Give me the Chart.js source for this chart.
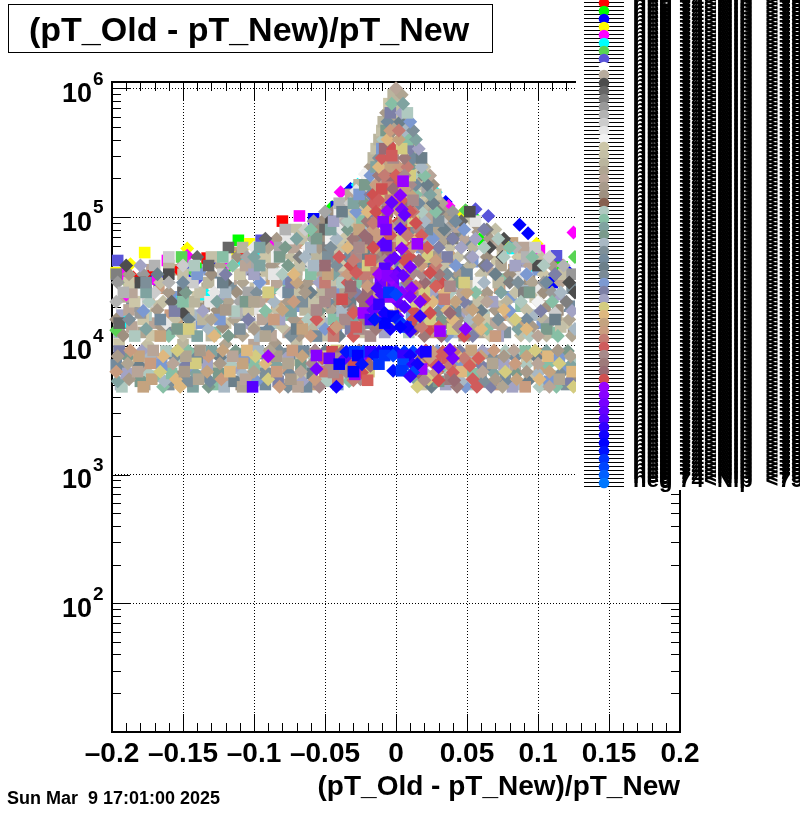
<!DOCTYPE html>
<html>
<head>
<meta charset="utf-8">
<title>(pT_Old - pT_New)/pT_New</title>
<script src="https://cdn.jsdelivr.net/npm/chart.js@4"></script>
<style>
  html, body { margin: 0; padding: 0; background: #ffffff; }
  canvas { display: block; }
</style>
</head>
<body>
<canvas id="chart" width="800" height="814"></canvas>
<script>
// points are [x in 1e-3, count in thousands]
const redPts = [[-80,93],[-185,34],[-171,35],[-153,39],[-133,48],[-110,51],[115,44]];
const limePts = [[-111,66],[-45,120],[-141,40],[59,67],[55,100],[117,41],[-120,42]];
const bluePts = [[-58,97],[-32,165],[-42,120],[-146,37],[-127,46],[-170,33],[87,87],[93,75],[35,131],[122,37],[110,31],[79,60]];
const yellowPts = [[-103,62],[-73,76],[-177,53],[-147,57],[-115,49],[-187,43],[-197,37],[77,62],[99,62],[47,108]];
const magentaPts = [[-68,102],[-39,156],[-87,63],[-147,50],[-161,46],[-193,36],[-168,33],[-118,44],[125,76],[37,122],[101,55],[-190,25]];
const cyanPts = [[-45,105],[-27,178],[-108,46],[-97,57],[28,156],[82,57],[95,42],[-150,24],[-135,25],[-190,15.5]];
const greenPts = [[-151,49],[-189,31],[49,113],[26,151],[126,49],[-143,38],[-62,68],[-197,13.2]];
const purplePts = [[-95,66],[-69,72],[-196,46],[65,102],[56,115],[113,50],[-165,33],[-140,33]];

const greyPts = [
[-197,36],[-178,36],[-160,36],[-140,36],[-122,36],[-100,36],[-86,36],[70,36],[92,36],[112,36],[124,36],
[-190,42],[-170,42],[-150,42],[-132,42],[-115,42],[-98,42],[-78,42],[62,42],[84,42],[100,42],[118,42],
[-160,49],[-140,49],[-120,49],[-105,49],[-84,49],[-68,49],[52,49],[75,49],[92,49],[108,49],
[-118,58],[-100,58],[-82,58],[-62,58],[-48,58],[46,58],[66,58],[84,58],[98,58],
[-92,68],[-76,68],[-58,68],[-46,68],[40,68],[56,68],[76,68],
[-78,80],[-64,80],[-50,80],[-40,80],[36,80],[50,80],[64,80],
[-58,93],[-46,93],[-36,93],[32,93],[46,93],[56,93],
[-50,110],[-40,110],[30,110],[40,110],[52,110],
[-40,128],[-32,128],[26,128],[-28,160],[22,160],[-22,215],[18,215],
[-196,31],[-180,31],[-160,31],[-143,31],[-120,31],[-96,31],[-70,31],[58,31],[80,31],[104,31],[122,31],
[-192,26],[-170,26],[-150,26],[-128,26],[-104,26],[-80,26],[90,26],[110,26],[126,26],
[-197,22],[-175,22],[-158,22],[-131,22],[-110,22],[100,22],[120,22],
[-180,18],[-150,18],[-112,18],[112,18],[-195,15],[-162,15],[108,15]
];

const fillUpPts = [
[-195,12.7],[-178,12.7],[-161,12.7],[-144,12.7],[-127,12.7],[-110,12.7],[-93,12.7],[-76,12.7],[-59,12.7],[-42,12.7],[-25,12.7],[-8,12.7],[9,12.7],[26,12.7],[43,12.7],[60,12.7],[77,12.7],[94,12.7],[111,12.7],[125,12.7],
[-188,15],[-171,15],[-154,15],[-137,15],[-120,15],[-103,15],[-86,15],[-69,15],[-52,15],[-35,15],[-18,15],[1,15],[18,15],[35,15],[52,15],[69,15],[86,15],[103,15],[120,15],
[-193,17.3],[-176,17.3],[-159,17.3],[-142,17.3],[-125,17.3],[-108,17.3],[-91,17.3],[-74,17.3],[-57,17.3],[-40,17.3],[-23,17.3],[-6,17.3],[11,17.3],[28,17.3],[45,17.3],[62,17.3],[79,17.3],[96,17.3],[113,17.3],
[-186,20.3],[-169,20.3],[-152,20.3],[-135,20.3],[-118,20.3],[-101,20.3],[-84,20.3],[-67,20.3],[-50,20.3],[-33,20.3],[-16,20.3],[3,20.3],[20,20.3],[37,20.3],[54,20.3],[71,20.3],[88,20.3],[105,20.3],[122,20.3],
[-191,24],[-174,24],[-157,24],[-140,24],[-123,24],[-106,24],[-89,24],[-72,24],[-55,24],[-38,24],[-21,24],[-4,24],[13,24],[30,24],[47,24],[64,24],[81,24],[98,24],[115,24],
[-184,28],[-167,28],[-150,28],[-133,28],[-116,28],[-99,28],[-82,28],[-65,28],[-48,28],[-31,28],[-14,28],[5,28],[22,28],[39,28],[56,28],[73,28],[90,28],[107,28],[124,28],
[-178,33],[-161,33],[-144,33],[-127,33],[-110,33],[-93,33],[-76,33],[-59,33],[-42,33],[-25,33],[-8,33],[9,33],[26,33],[43,33],[60,33],[77,33],[94,33],[111,33],
[-172,39],[-155,39],[-138,39],[-121,39],[-104,39],[-87,39],[-70,39],[-53,39],[-36,39],[-19,39],[-2,39],[15,39],[32,39],[49,39],[66,39],[83,39],[100,39],[116,39],
[-150,45],[-133,45],[-116,45],[-99,45],[-82,45],[-65,45],[-48,45],[-31,45],[-14,45],[3,45],[20,45],[37,45],[54,45],[71,45],[88,45],[105,45],
[-112,53],[-95,53],[-78,53],[-61,53],[-44,53],[-27,53],[-10,53],[7,53],[24,53],[41,53],[58,53],[75,53],[92,53],
[-85,63],[-68,63],[-51,63],[-34,63],[-17,63],[0,63],[17,63],[34,63],[51,63],[68,63],[82,63],
[-72,73],[-55,73],[-38,73],[-21,73],[-4,73],[13,73],[30,73],[47,73],[64,73],
[-50,86],[-33,86],[-16,86],[1,86],[18,86],[35,86],[48,86],
[-42,100],[-25,100],[-8,100],[9,100],[26,100],[40,100],
[-32,120],[-15,120],[2,120],[19,120],[30,120],
[-26,140],[-9,140],[8,140],[22,140],[-20,190],[-3,190],[14,190]
];

const palePts = [
[-112,22.6],[-108,20],[-80,57],[-56,66],[-34,90],[-85,35],[-108,30],[-147,23],[-180,25],[-100,19],
[-76,70],[-62,46],[43,58],[73,41],[115,20],[85,34],[60,52],[100,28],[-128,30],[-42,76]
];

const beigePts = [
[-195,10.3],[-175,10.3],[-150,10.2],[-120,10.3],[-100,10.2],[-85,10.4],[-70,10.2],
[-192,12],[-172,12],[-150,12],[-130,12],[-108,12],[-88,12],[-68,12],[-52,12],[48,12],[66,12],[88,12],[106,12],[124,12],
[-186,14],[-165,14],[-145,14],[-122,14],[-100,14],[-80,14],[-60,14],[56,14],[74,14],[96,14],[116,14],
[-197,16],[-178,16],[-156,16],[-136,16],[-114,16],[-94,16],[-72,16],[-54,16],[44,16],[62,16],[82,16],[104,16],[122,16],
[-188,19],[-168,19],[-146,19],[-126,19],[-104,19],[-84,19],[-64,19],[-46,19],[50,19],[70,19],[92,19],[114,19],
[-184,22],[-164,22],[-142,22],[-118,22],[-96,22],[-76,22],[-58,22],[-42,22],[40,22],[58,22],[78,22],[100,22],
[-186,26],[-160,26],[-138,26],[-112,26],[-90,26],[-70,26],[-52,26],[-38,26],[46,26],[64,26],[84,26],[104,26],
[-188,31],[-166,31],[-132,31],[-108,31],[-84,31],[-62,31],[-46,31],[-34,31],[38,31],[52,31],[72,31],[96,31],[116,31],
[-188,36],[-150,36],[-130,36],[-110,36],[-92,36],[-70,36],[-52,36],[-38,36],[44,36],[60,36],[80,36],[104,36],[118,36],
[-160,42],[-124,42],[-106,42],[-88,42],[-68,42],[-50,42],[-36,42],[34,42],[52,42],[74,42],[94,42],[110,42],
[-130,49],[-112,49],[-92,49],[-74,49],[-56,49],[-42,49],[-28,49],[28,49],[44,49],[64,49],[86,49],[102,49],
[-108,58],[-90,58],[-72,58],[-54,58],[-40,58],[-28,58],[24,58],[38,58],[54,58],[74,58],[90,58],
[-84,68],[-66,68],[-52,68],[-36,68],[-24,68],[22,68],[34,68],[48,68],[66,68],
[-70,80],[-56,80],[-42,80],[-28,80],[18,80],[28,80],[42,80],[56,80],[70,80],
[-52,93],[-40,93],[-30,93],[-20,93],[16,93],[24,93],[38,93],[50,93],
[-44,110],[-34,110],[-24,110],[-14,110],[12,110],[22,110],[34,110],
[-36,128],[-28,128],[-18,128],[14,128],[22,128],[32,128],
[-32,150],[-24,150],[-14,150],[12,150],[20,150],[28,150],
[-26,178],[-18,178],[-10,178],[10,178],[18,178],[26,178],
[-20,210],[-12,210],[8,210],[16,210],[24,210],
[-18,245],[-10,245],[6,245],[14,245],[20,245],
[-16,288],[-8,288],[8,288],[16,288],
[-14,340],[-6,340],[6,340],[14,340],
[-12,400],[-4,400],[4,400],[12,400],
[-10,470],[-2,470],[4,470],[10,470],
[-9,550],[-1,550],[7,550],[-7,645],[1,645],[6,645],[-5,760],[2,760],[-2,890],[4,890],[0,1000]
];

const tealPts = [
[-184,11.9],[-160,11.9],[-140,11.9],[-118,11.9],[-96,11.9],[-74,11.9],[-56,11.9],[-40,11.9],[36,11.9],[54,11.9],[72,11.9],[94,11.9],[114,11.9],
[-176,13.5],[-154,13.5],[-132,13.5],[-110,13.5],[-90,13.5],[-70,13.5],[-50,13.5],[-32,13.5],[28,13.5],[44,13.5],[64,13.5],[86,13.5],[106,13.5],[126,13.5],
[-188,16],[-166,16],[-146,16],[-124,16],[-104,16],[-82,16],[-62,16],[-44,16],[-30,16],[32,16],[52,16],[72,16],[92,16],[112,16],
[-178,18.6],[-156,18.6],[-136,18.6],[-114,18.6],[-92,18.6],[-74,18.6],[-54,18.6],[-38,18.6],[30,18.6],[42,18.6],[60,18.6],[80,18.6],[102,18.6],[124,18.6],
[-174,22],[-150,22],[-126,22],[-106,22],[-86,22],[-66,22],[-48,22],[-32,22],[32,22],[48,22],[68,22],[88,22],[110,22],
[-176,26],[-148,26],[-120,26],[-98,26],[-76,26],[-60,26],[-44,26],[-28,26],[26,26],[38,26],[56,26],[74,26],[94,26],[116,26],
[-176,31],[-150,31],[-122,31],[-96,31],[-74,31],[-54,31],[-38,31],[-26,31],[28,31],[44,31],[62,31],[86,31],[106,31],
[-168,36],[-140,36],[-120,36],[-100,36],[-80,36],[-60,36],[-44,36],[-30,36],[24,36],[36,36],[50,36],[70,36],[92,36],[112,36],
[-180,42],[-142,42],[-115,42],[-96,42],[-76,42],[-58,42],[-42,42],[-28,42],[26,42],[42,42],[64,42],[84,42],[104,42],
[-122,49],[-100,49],[-82,49],[-64,49],[-48,49],[-34,49],[-22,49],[20,49],[36,49],[54,49],[76,49],[96,49],
[-96,58],[-78,58],[-60,58],[-46,58],[-32,58],[-20,58],[18,58],[30,58],[46,58],[62,58],[80,58],
[-70,68],[-56,68],[-42,68],[-28,68],[-18,68],[14,68],[26,68],[40,68],[56,68],[72,68],
[-60,80],[-46,80],[-34,80],[-22,80],[12,80],[22,80],[34,80],[48,80],[62,80],
[-44,93],[-34,93],[-24,93],[-14,93],[8,93],[20,93],[30,93],[42,93],
[-38,110],[-28,110],[-18,110],[8,110],[18,110],[28,110],
[-30,128],[-22,128],[-12,128],[6,128],[16,128],[26,128],
[-26,150],[-18,150],[-8,150],[4,150],[14,150],[24,150],
[-22,178],[-14,178],[6,178],[14,178],[22,178],
[-18,210],[-6,210],[4,210],[12,210],[20,210],
[-14,245],[10,245],[18,245],[-12,288],[12,288],[18,288],
[-10,340],[10,340],[16,340],[-9,400],[8,400],[14,400],
[-7,470],[6,470],[12,470],[-6,550],[3,550],[10,550],[-4,645],[4,645],[8,645],[-3,760],[5,760]
];

const warmPts = [
[-166,11.9],[-128,11.9],[-92,11.9],[-60,11.9],[-44,11.9],[-30,11.9],[-18,11.9],[20,11.9],[32,11.9],[48,11.9],[70,11.9],[100,11.9],
[-146,13.5],[-100,13.5],[-66,13.5],[-44,13.5],[-26,13.5],[-14,13.5],[14,13.5],[24,13.5],[40,13.5],[60,13.5],[92,13.5],
[-130,16],[-86,16],[-56,16],[-36,16],[-22,16],[-10,16],[12,16],[24,16],[40,16],[58,16],[84,16],
[-120,19],[-80,19],[-56,19],[-30,19],[-16,19],[12,19],[22,19],[36,19],[54,19],[76,19],
[-100,22],[-72,22],[-50,22],[-36,22],[-22,22],[-12,22],[14,22],[26,22],[42,22],[64,22],
[-90,26],[-64,26],[-46,26],[-32,26],[-20,26],[10,26],[20,26],[34,26],[50,26],
[-70,31],[-50,31],[-34,31],[-20,31],[8,31],[20,31],[32,31],[48,31],
[-72,36],[-48,36],[-34,36],[-22,36],[8,36],[18,36],[30,36],
[-50,42],[-32,42],[-20,42],[-10,42],[6,42],[18,42],[28,42],
[-40,49],[-28,49],[-16,49],[-6,49],[10,49],[22,49],
[-34,58],[-24,58],[-14,58],[-4,58],[8,58],[18,58],
[-30,68],[-20,68],[-10,68],[4,68],[14,68],
[-26,80],[-16,80],[-6,80],[6,80],[16,80],
[-20,93],[-10,93],[2,93],[12,93],[-20,110],[-10,110],[2,110],[12,110],
[-16,128],[-6,128],[2,128],[10,128],[-16,150],[-8,150],[0,150],[10,150],
[-14,178],[-6,178],[2,178],[10,178],[-12,210],[-4,210],[2,210],[10,210],
[-12,245],[-4,245],[2,245],[8,245],[-10,288],[-2,288],[6,288],
[-8,340],[-2,340],[4,340],[-6,400],[2,400],[-4,470],[2,470]
];

const redCorePts = [
[-3,300],[-8,210],[0,210],[6,210],[-10,165],[-2,165],[6,165],[-12,135],[-4,135],[4,135],[12,135],
[-14,110],[-6,110],[2,110],[10,110],[-16,90],[-7,90],[3,90],[14,90],[-22,72],[-12,72],[-4,72],[8,72],[18,72],
[-26,58],[-16,58],[-6,58],[12,58],[22,58],[-30,46],[-18,46],[-8,46],[6,46],[16,46],[28,46],
[-28,37],[-14,37],[-4,37],[12,37],[24,37],[-32,29],[-20,29],[-8,29],[14,29],[28,29],[38,29],
[-38,23],[-24,23],[-12,23],[20,23],[34,23],[-30,18],[-22,18],[24,18],[38,18],[-42,14],[-28,14],[18,14],[30,14],[44,14],
[-45,9],[-38,9],[26,9],[33,9],[41,9],[-52,8],[-40,8],[-20,8],[18,8],[24,8],[36,8],[48,8],[58,8],
[-46,7],[-30,7],[-18,7],[18,7],[28,7],[38,7],[52,7],[-44,6.2],[-24,6.2],[16,6.2],[28,6.2],[40,6.2],
[-30,5.4],[-20,5.4],[20,5.4],[30,5.4],[41,5.4]
];

// lower band, below the white strip
const fillLowPts = [
[-194,5],[-177,5],[-160,5],[-143,5],[-126,5],[-109,5],[-92,5],[-75,5],[-58,5],[-41,5],[18,5],[35,5],[52,5],[69,5],[86,5],[103,5],[120,5],
[-186,5.8],[-169,5.8],[-152,5.8],[-135,5.8],[-118,5.8],[-101,5.8],[-84,5.8],[-67,5.8],[-50,5.8],[-33,5.8],[26,5.8],[43,5.8],[60,5.8],[77,5.8],[94,5.8],[111,5.8],[126,5.8],
[-195,6.7],[-178,6.7],[-161,6.7],[-144,6.7],[-127,6.7],[-110,6.7],[-93,6.7],[-76,6.7],[-59,6.7],[-42,6.7],[-25,6.7],[16,6.7],[33,6.7],[50,6.7],[67,6.7],[84,6.7],[101,6.7],[118,6.7],
[-187,7.7],[-170,7.7],[-153,7.7],[-136,7.7],[-119,7.7],[-102,7.7],[-85,7.7],[-68,7.7],[-51,7.7],[-34,7.7],[24,7.7],[41,7.7],[58,7.7],[75,7.7],[92,7.7],[109,7.7],[125,7.7],
[-194,8.7],[-177,8.7],[-160,8.7],[-143,8.7],[-126,8.7],[-109,8.7],[-92,8.7],[-75,8.7],[-58,8.7],[-41,8.7],[32,8.7],[49,8.7],[66,8.7],[83,8.7],[100,8.7],[117,8.7]
];
const lowTealPts = [
[-193,4.8],[-164,4.8],[-143,4.8],[-132,4.8],[-121,4.8],[-76,4.8],[-63,4.8],[25,4.8],[49,4.8],[67,4.8],[82,4.8],[101,4.8],[113,4.8],
[-196,5.3],[-180,5.3],[-163,5.3],[-147,5.3],[-131,5.3],[-114,5.3],[-98,5.3],[-83,5.3],[-66,5.3],[-49,5.3],[-33,5.3],[15,5.3],[30,5.3],[46,5.3],[62,5.3],[77,5.3],[93,5.3],[108,5.3],[122,5.3],
[-190,6.1],[-174,6.1],[-158,6.1],[-141,6.1],[-125,6.1],[-108,6.1],[-92,6.1],[-75,6.1],[-59,6.1],[-42,6.1],[-27,6.1],[21,6.1],[38,6.1],[54,6.1],[69,6.1],[85,6.1],[100,6.1],[116,6.1],
[-197,7.1],[-181,7.1],[-165,7.1],[-148,7.1],[-133,7.1],[-116,7.1],[-100,7.1],[-84,7.1],[-67,7.1],[-51,7.1],[-35,7.1],[12,7.1],[28,7.1],[44,7.1],[60,7.1],[76,7.1],[92,7.1],[107,7.1],[123,7.1],
[-189,8.1],[-173,8.1],[-156,8.1],[-140,8.1],[-124,8.1],[-107,8.1],[-91,8.1],[-76,8.1],[-58,8.1],[-43,8.1],[20,8.1],[36,8.1],[52,8.1],[68,8.1],[84,8.1],[99,8.1],[115,8.1],
[-195,9.1],[-179,9.1],[-162,9.1],[-146,9.1],[-130,9.1],[-113,9.1],[-97,9.1],[-82,9.1],[-65,9.1],[-50,9.1],[29,9.1],[45,9.1],[61,9.1],[77,9.1],[91,9.1],[106,9.1],[121,9.1]
];
const lowWarmPts = [
[-178,4.8],[-152,4.8],[-108,4.8],[-82,4.8],[-69,4.8],[-54,4.8],[15,4.8],[43,4.8],[57,4.8],[75,4.8],[91,4.8],[108,4.8],[125,4.8],
[-188,5.5],[-172,5.5],[-155,5.5],[-139,5.5],[-123,5.5],[-106,5.5],[-90,5.5],[-74,5.5],[-57,5.5],[-41,5.5],[-25,5.5],[23,5.5],[38,5.5],[54,5.5],[70,5.5],[85,5.5],[101,5.5],[115,5.5],
[-197,6.3],[-182,6.3],[-166,6.3],[-149,6.3],[-133,6.3],[-117,6.3],[-100,6.3],[-84,6.3],[-67,6.3],[-50,6.3],[-35,6.3],[-19,6.3],[13,6.3],[29,6.3],[46,6.3],[61,6.3],[77,6.3],[92,6.3],[108,6.3],[124,6.3],
[-189,7.3],[-173,7.3],[-157,7.3],[-141,7.3],[-124,7.3],[-108,7.3],[-92,7.3],[-76,7.3],[-59,7.3],[-43,7.3],[-27,7.3],[20,7.3],[36,7.3],[52,7.3],[68,7.3],[84,7.3],[100,7.3],[115,7.3],
[-196,8.3],[-181,8.3],[-164,8.3],[-148,8.3],[-132,8.3],[-115,8.3],[-99,8.3],[-84,8.3],[-66,8.3],[-50,8.3],[-35,8.3],[28,8.3],[44,8.3],[60,8.3],[76,8.3],[92,8.3],[107,8.3],[123,8.3],
[-187,9.2],[-171,9.2],[-154,9.2],[-138,9.2],[-122,9.2],[-105,9.2],[-89,9.2],[-73,9.2],[-57,9.2],[-42,9.2],[-26,9.2],[21,9.2],[37,9.2],[53,9.2],[69,9.2],[83,9.2],[98,9.2],[114,9.2]
];

const violetPts = [
[-23,18],[-17,22],[-11,31],[-9,62],[-7,60],[-6,112],[-9,92],[-4,46],[-2,31],[-13,28],[-6,26],[-1,28],[-8,17],[1,17],[-18,16],
[5,190],[3,148],[4,115],[6,104],[3,81],[15,62],[4,57],[10,41],[-1,48],[1,37],[-3,33],[11,28],[17,22],[1,22],[6,20],[31,13],[49,13.5],
[-7,80],[-3,130],[-8,40],[-12,36],[-6,35],[0,35],[5,35],[-10,25],[-4,24],[4,26],[10,24],[-16,19],
[-101,4.8],[-90,8.3],[-56,8.4],[-56,6.6],[-47,8],[-36,8],[-29,6],[-25,8],[40,8],[38,9.3],[30,6.8],[18,6.6]
];
const deepBluePts = [
[-12,21],[-8,18],[-2,17],[1,16],[4,15],[7,14],[10,13],[-4,13.5],[-8,15],[-15,16],[-5,26],[0,25],[17,17],[8,14],[3,14],
[-35,9],[-29,9],[-23,9],[-18,9],[-12,9],[-6,9],[0,9],[6,9],[12,9],[18,9],[21,9],
[-27,8.4],[-15,8.4],[-8,8.4],[-2,8.4],[5,8.4],[10,8.4],
[-40,7.2],[-24,7.2],[-12,7.2],[5,7.2],[12,7.2],[15,7.2],[-30,6.3],[-2,6.4],[4,6.4],[12,6.2],[10,5.8],[-42,4.8]
];

const greyColors = ['#7f7f7f','#999999','#4d4d4d','#b3b3b3','#cccccc','#666666','#e6e6e6','#a6a6a6','#f2f2f2'];
const fillColors = ['#a8b8c4','#b0a592','#7d8f99','#c4bfa5','#87bfa5','#9e9080','#738a9c','#b8a598','#c4a37f','#7c99d1','#ccc6a8','#a3a3c4','#afc9c0','#c99c7f'];
const paleColors = ['#f2f2f2','#e6e6e6','#ffffff','#dddddd'];
const beigeColors = ['#ccc6a8','#c4bfa5','#bab59e','#b0a592','#b8a598','#a89a8a','#c4c0a8','#9e9080'];
const tealColors = ['#afc9c0','#87bfa5','#7fa3a0','#7a9a8c','#a8b8c4','#7d8f99','#738a9c','#6b7f8a','#7c99d1','#7d80a6','#a3a3c4'];
const warmColors = ['#d4cc80','#deb87f','#c4a37f','#c99c7f','#c47c73','#cf5c5c','#a88a8a','#9e7a7a','#996b73','#cf5050'];
const tanColors = ['#c4a37f','#deb87f','#b0a592','#c99c7f','#b8a598','#d4cc80','#a89a8a'];
const redCoreColors = ['#cf5c5c','#c47c73','#d4605a','#a88a8a','#cf5050','#996b73','#c99c7f'];
const lowWarmColors = ['#deb87f','#c4a37f','#b0a592','#c99c7f','#c47c73','#a88a8a','#d4cc80','#9e7a7a','#cf5c5c'];
const violetColors = ['#9900ff','#8800ff','#7700ff','#6600ff','#5500ff'];
const deepBlueColors = ['#3300ff','#1100ff','#0000ff','#0011ff','#0033ff','#0044ff'];

const xTickValues = [-0.2,-0.15,-0.1,-0.05,0,0.05,0.1,0.15,0.2];
const xTickLabels = ['\u20130.2','\u20130.15','\u20130.1','\u20130.05','0','0.05','0.1','0.15','0.2'];
const yDecades = [10,100,1000,10000,100000,1000000];
const yExponents = ['1','2','3','4','5','6'];

const titleText = '(pT_Old - pT_New)/pT_New';
const dateText = 'Sun Mar  9 17:01:00 2025';
const legendLabel = 'neg 74<Nip  <75';
const legendColors = [
  '#ff0000','#00ff00','#0000ff','#ffff00','#ff00ff','#00ffff','#59d454','#5954d9','#ffffff','#b8ac9e',
  '#4d4d4d','#666666','#7f7f7f','#999999','#b3b3b3','#cccccc','#e6e6e6','#f2f2f2','#ccc6a8','#c4bfa5',
  '#bab59e','#b0a592','#b8a598','#a89a8a','#9e9080','#86604f','#afc9c0','#87bfa5','#7fa3a0','#7a9a8c',
  '#a8b8c4','#7d8f99','#738a9c','#6b7f8a','#7a8a96','#7c99d1','#7d80a6','#a3a3c4','#d4cc80','#deb87f',
  '#c4a37f','#c99c7f','#c47c73','#cf5c5c','#a88a8a','#9e7a7a','#996b73','#cf5050','#9900ff','#8800ff',
  '#7700ff','#6600ff','#5500ff','#3300ff','#1100ff','#0000ff','#0011ff','#0033ff','#0044ff','#0060ff','#0077ff'
];

const FONT = '"Liberation Sans", Arial, sans-serif';

function series(pts, colors, squaresOnly, farColors) {
  const isSquare = (i, x) => squaresOnly || (x < 0 ? i % 2 === 0 : i % 5 === 0);
  return {
    data: pts.map(p => ({ x: p[0] / 1000, y: p[1] * 1000 })),
    showLine: false,
    clip: false,
    pointBorderWidth: 0,
    // reds stay near the centre, the far sides are tan
    pointBackgroundColor: ctx => {
      const list = farColors && Math.abs(ctx.raw.x) > 0.06 ? farColors : colors;
      return list[ctx.dataIndex % list.length];
    },
    // left side mixes squares and diamonds, right side is mostly diamonds
    pointStyle: ctx => (isSquare(ctx.dataIndex, ctx.raw.x) ? 'rect' : 'rectRot'),
    pointRadius: ctx => (isSquare(ctx.dataIndex, ctx.raw.x) ? 8.2 : 7)
  };
}

const axisPlugin = {
  id: 'rootAxes',
  beforeDatasetsDraw(chart) {
    const { ctx, scales: { x, y }, chartArea: a } = chart;
    ctx.save();
    ctx.strokeStyle = '#000';
    ctx.lineWidth = 1;
    ctx.beginPath();
    // x ticks every 0.01, on both sides of the frame
    for (let k = -20; k <= 20; k++) {
      const px = Math.round(x.getPixelForValue(k / 100)) + 0.5;
      const len = k % 5 === 0 ? 18 : 9;
      ctx.moveTo(px, a.bottom); ctx.lineTo(px, a.bottom - len);
      ctx.moveTo(px, a.top); ctx.lineTo(px, a.top + len);
    }
    // y ticks, log minors
    yDecades.forEach(d => {
      for (let m = 1; m < 10; m++) {
        const v = d * m;
        if (v > y.max) break;
        const py = Math.round(y.getPixelForValue(v)) + 0.5;
        const len = m === 1 ? 18 : 9;
        ctx.moveTo(a.left, py); ctx.lineTo(a.left + len, py);
        ctx.moveTo(a.right, py); ctx.lineTo(a.right - len, py);
      }
    });
    ctx.stroke();
    ctx.lineWidth = 2;
    ctx.strokeRect(a.left, a.top, a.right - a.left, a.bottom - a.top);

    // y labels with raised exponents
    ctx.fillStyle = '#000';
    ctx.textBaseline = 'middle';
    yDecades.forEach((d, i) => {
      if (i === 0) return;
      const py = y.getPixelForValue(d);
      ctx.font = 'bold 27px ' + FONT;
      ctx.textAlign = 'right';
      ctx.fillText('10', 92, py + 6);
      ctx.font = 'bold 19px ' + FONT;
      ctx.textAlign = 'left';
      ctx.fillText(yExponents[i], 93, py - 9);
    });
    ctx.restore();
  },
  afterDraw(chart) {
    const { ctx } = chart;
    ctx.save();
    // legend box hides whatever is underneath
    ctx.fillStyle = '#fff';
    ctx.fillRect(576, 0, 224, 490);

    ctx.strokeStyle = '#000';
    ctx.lineWidth = 1;
    ctx.beginPath();
    for (let i = 0; i < 122; i++) {
      const ly = 486.5 - i * 4;
      ctx.moveTo(584, ly); ctx.lineTo(624, ly);
    }
    ctx.stroke();
    legendColors.forEach((c, i) => {
      ctx.fillStyle = c;
      ctx.beginPath();
      ctx.arc(604, 3 + i * 8, 5.3, 0, Math.PI * 2);
      ctx.fill();
    });

    ctx.fillStyle = '#000';
    ctx.font = 'bold 22px ' + FONT;
    ctx.letterSpacing = '0.2px';
    ctx.textAlign = 'left';
    ctx.textBaseline = 'alphabetic';
    for (let i = 0; i < 122; i++) {
      ctx.fillText(legendLabel, 633, 487 - i * 4);
    }
    ctx.letterSpacing = '0px';

    // title box
    ctx.fillStyle = '#fff';
    ctx.fillRect(8.5, 4.5, 484, 48);
    ctx.strokeStyle = '#000';
    ctx.strokeRect(8.5, 4.5, 484, 48);
    ctx.fillStyle = '#000';
    ctx.font = 'bold 34px ' + FONT;
    ctx.textAlign = 'left';
    ctx.textBaseline = 'middle';
    ctx.fillText(titleText, 29, 31.5);

    ctx.font = 'bold 18px ' + FONT;
    ctx.fillText(dateText, 7, 799);
    ctx.restore();
  }
};

// listed in painting order; Chart.js paints the first dataset last, hence reverse()
const paintOrder = [
  series(fillUpPts, fillColors, true),
  series(redPts, ['#ff0000']),
  series(limePts, ['#00ff00']),
  series(bluePts, ['#0000ff']),
  series(yellowPts, ['#ffff00']),
  series(magentaPts, ['#ff00ff']),
  series(cyanPts, ['#00ffff']),
  series(greenPts, ['#59d454']),
  series(purplePts, ['#5954d9']),
  series(palePts, paleColors),
  series(beigePts, beigeColors),
  series(greyPts, greyColors),
  series(fillLowPts, fillColors, true),
  series(lowTealPts, tealColors),
  series(tealPts, tealColors),
  series(lowWarmPts, lowWarmColors, false, tanColors),
  series(warmPts, warmColors, false, tanColors),
  series(redCorePts, redCoreColors),
  series(violetPts, violetColors),
  series(deepBluePts, deepBlueColors)
];

new Chart(document.getElementById('chart'), {
  type: 'scatter',
  data: { datasets: paintOrder.reverse() },
  plugins: [axisPlugin],
  options: {
    responsive: false,
    animation: false,
    events: [],
    layout: { padding: { top: 82, right: 120, left: 0, bottom: 10 } },
    plugins: { legend: { display: false }, tooltip: { enabled: false } },
    scales: {
      x: {
        type: 'linear',
        min: -0.2,
        max: 0.2,
        afterBuildTicks: s => { s.ticks = xTickValues.map(v => ({ value: v })); },
        afterFit: s => { s.height = 72; },
        border: { display: false, dash: [1, 2] },
        grid: { color: '#000', lineWidth: 1, drawTicks: false },
        ticks: {
          autoSkip: false,
          maxRotation: 0,
          padding: 5,
          color: '#000',
          font: { family: FONT, size: 28, weight: 'bold' },
          callback: (v, i) => xTickLabels[i]
        },
        title: {
          display: true,
          text: titleText,
          align: 'end',
          color: '#000',
          padding: 0,
          font: { family: FONT, size: 28, weight: 'bold' }
        }
      },
      y: {
        type: 'logarithmic',
        min: 10,
        max: 1120000,
        afterBuildTicks: s => { s.ticks = yDecades.map(v => ({ value: v })); },
        afterFit: s => { s.width = 112; },
        border: { display: false, dash: [1, 2] },
        grid: { color: '#000', lineWidth: 1, drawTicks: false },
        ticks: { display: false }
      }
    }
  }
});
</script>
</body>
</html>
